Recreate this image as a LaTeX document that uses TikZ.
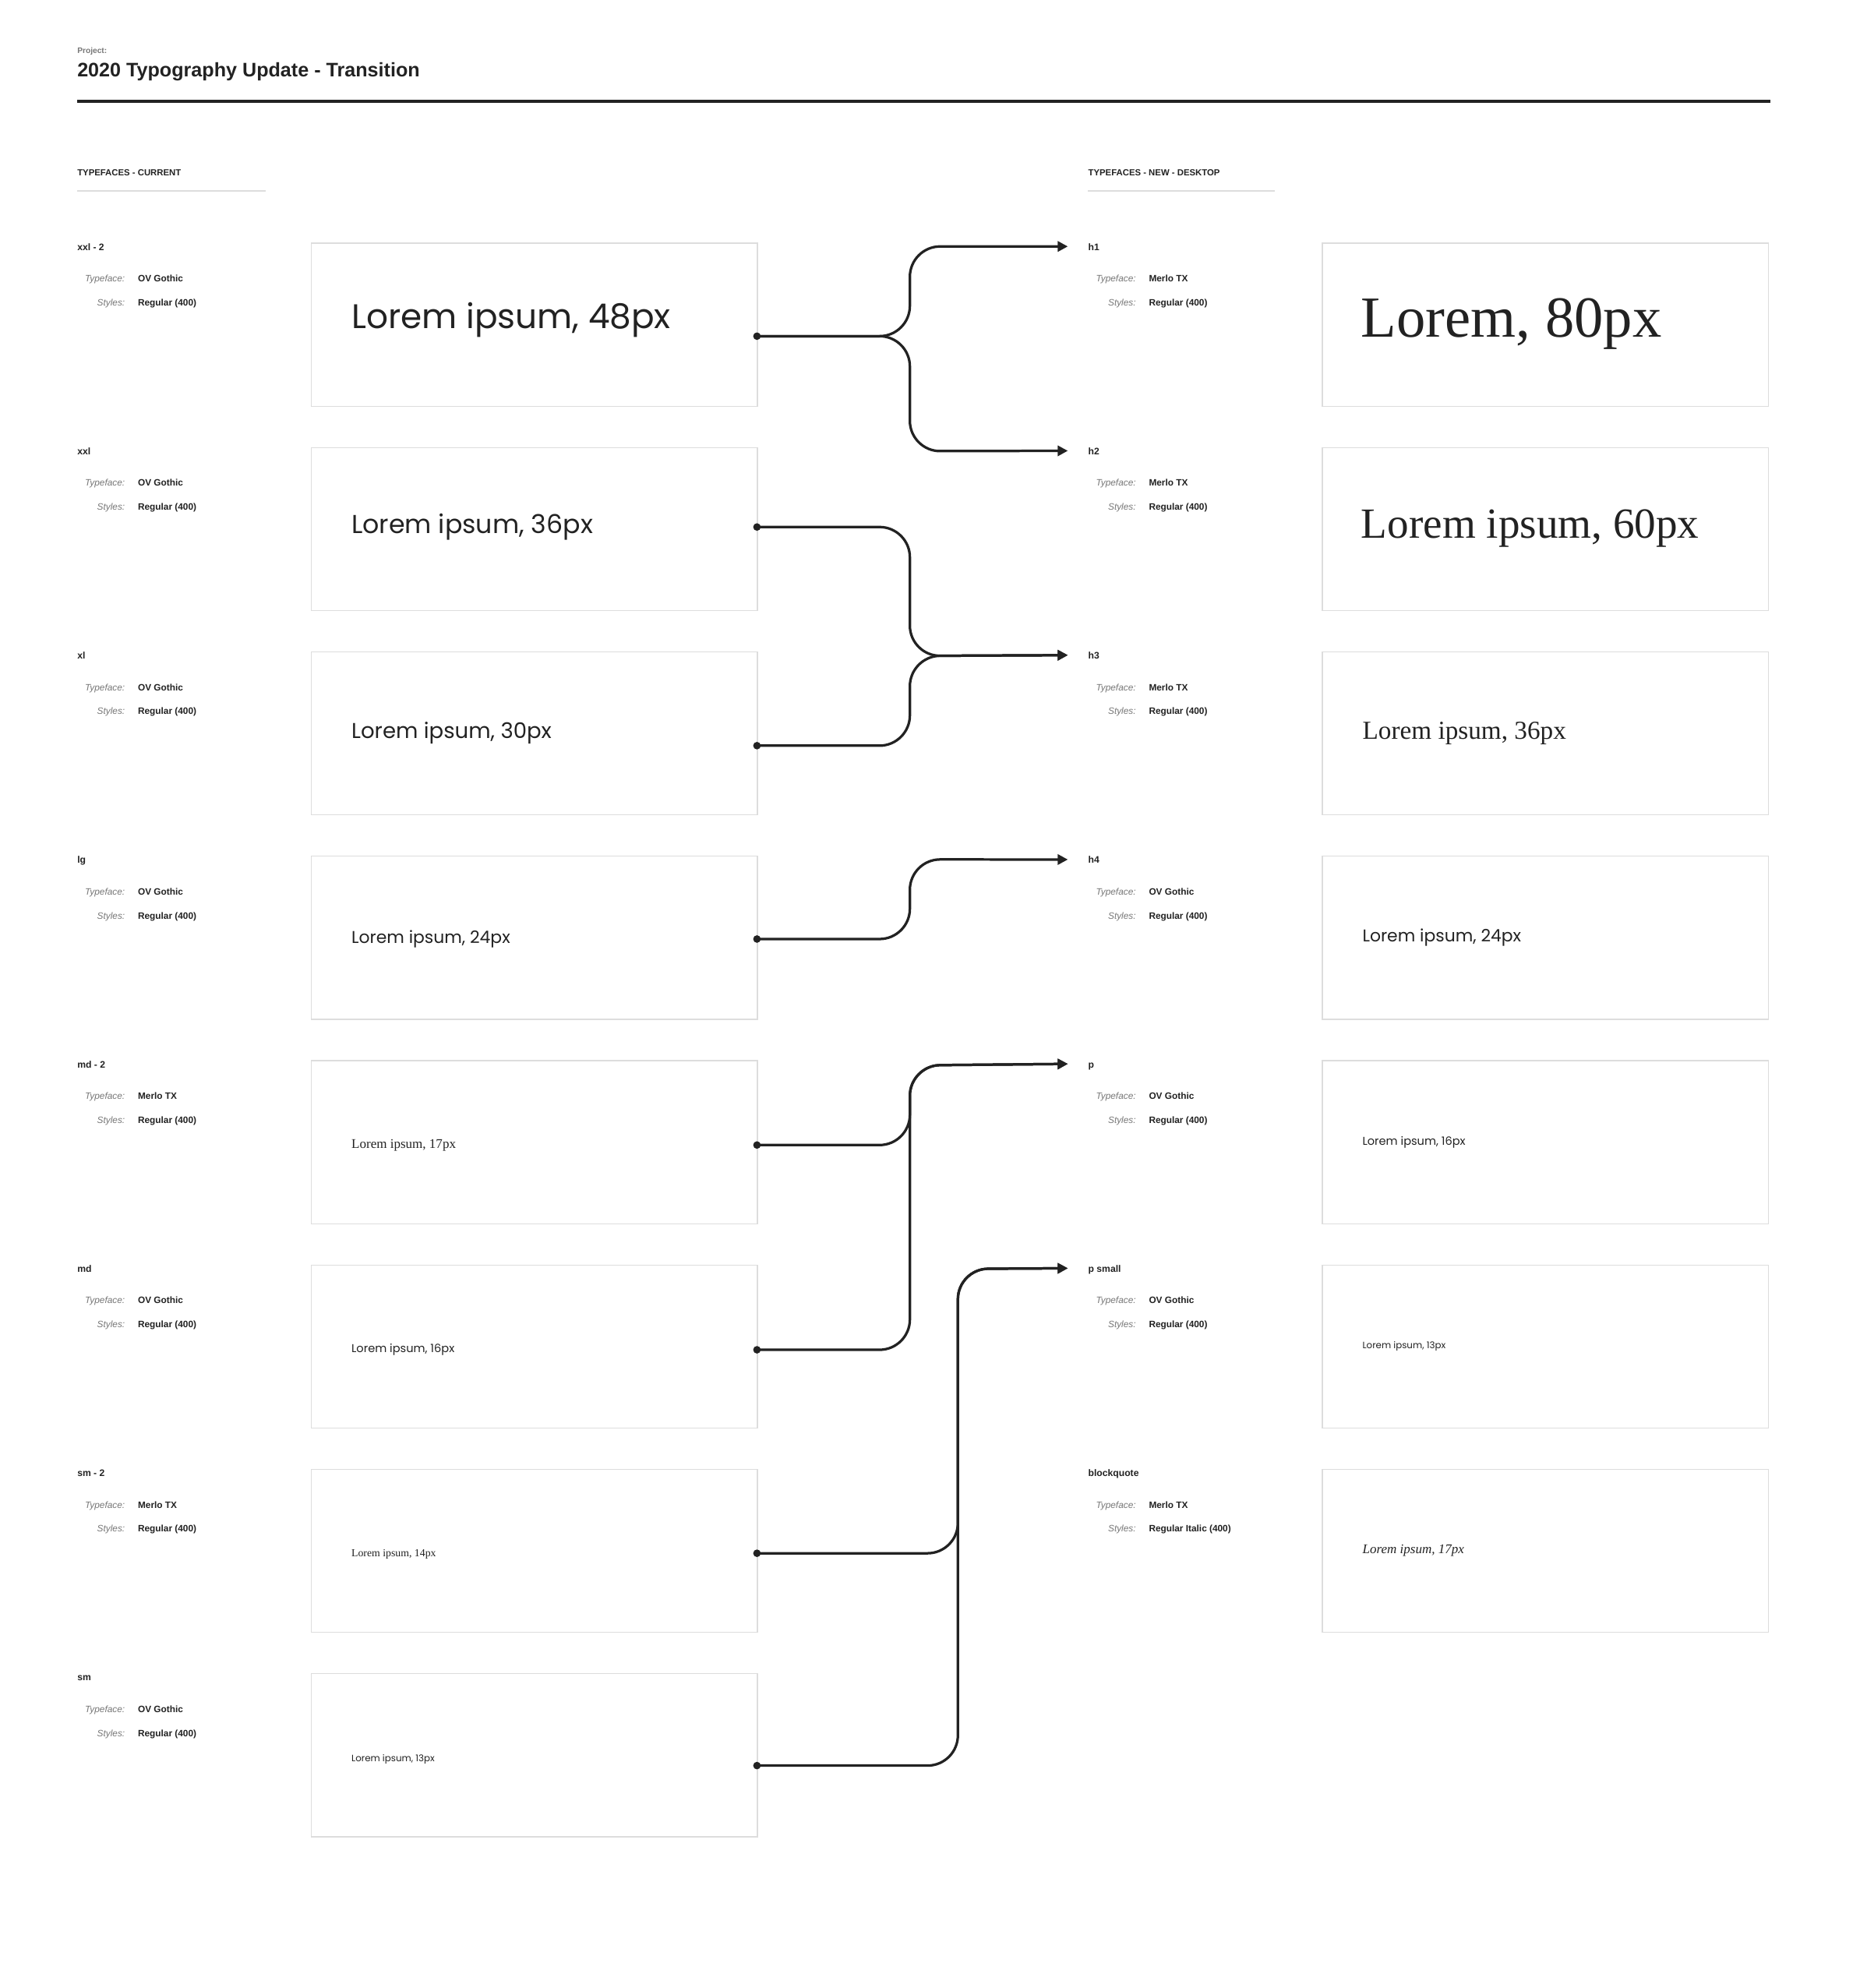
\documentclass[tikz,border=0pt]{standalone}
\usepackage{fontspec}
\setmainfont{Liberation Sans}
\newfontfamily\gothic{Poppins}
\newfontfamily\merlo{Liberation Serif}
\usetikzlibrary{arrows.meta}
\definecolor{ink}{HTML}{222222}
\definecolor{boxline}{HTML}{DDDDDD}
\definecolor{greytxt}{HTML}{777777}
\tikzset{
  x=1pt,y=-1pt,
  sample/.style={draw=boxline,line width=0.8pt,minimum width=353pt,minimum height=129pt,anchor=north west,inner sep=0pt},
  stxt/.style={anchor=west,inner sep=0pt,text=ink},
  lab/.style={anchor=base west,inner sep=0pt,font=\fontsize{7.5}{8}\selectfont\bfseries,text=ink},
  key/.style={anchor=base east,inner sep=0pt,font=\fontsize{7.3}{8}\selectfont\itshape,text=greytxt},
  val/.style={anchor=base west,inner sep=0pt,font=\fontsize{7.3}{8}\selectfont\bfseries,text=ink},
  conn/.style={draw=ink,line width=2pt,rounded corners=24pt,-{Triangle[length=8pt,width=8pt]}},
  dot/.style={circle,fill=ink,inner sep=0pt,minimum size=6pt}
}
\begin{document}
\begin{tikzpicture}
\useasboundingbox (0,0) rectangle (1466,1573);
\fill[white] (0,0) rectangle (1466,1573);
\node[lab,font=\fontsize{6.3}{7}\selectfont\bfseries,text=greytxt] (proj) at (61,42) {Project:};
\node[lab,font=\fontsize{15.5}{17}\selectfont\bfseries] (title) at (61,61) {2020 Typography Update - Transition};
\draw[ink,line width=2.5pt] (61,80) -- (1401,80);
\node[lab,font=\fontsize{7}{8}\selectfont\bfseries] (hcur) at (61,139) {TYPEFACES - CURRENT};
\draw[boxline,line width=0.8pt] (61,151) -- (210,151);
\node[lab,font=\fontsize{7}{8}\selectfont\bfseries] (hnew) at (861,139) {TYPEFACES - NEW - DESKTOP};
\draw[boxline,line width=0.8pt] (861,151) -- (1009,151);
% left rows
\foreach \i/\name/\tf in {0/xxl - 2/OV Gothic, 1/xxl/OV Gothic, 2/xl/OV Gothic, 3/lg/OV Gothic,
 4/md - 2/Merlo TX, 5/md/OV Gothic, 6/sm - 2/Merlo TX, 7/sm/OV Gothic}{
  \pgfmathsetmacro\yy{198+161.7*\i}
  \node[lab] (ln\i) at (61,\yy) {\name};
  \node[key] (lk\i) at (99,\yy+25) {Typeface:};
  \node[val] (lv\i) at (109,\yy+25) {\tf};
  \node[key] (ls\i) at (99,\yy+44) {Styles:};
  \node[val] (lw\i) at (109,\yy+44) {Regular (400)};
  \node[sample] (L\i) at (246,\yy-6) {};
}
\node[stxt,font=\gothic\fontsize{27}{30}\selectfont] (t0) at (278,253) {Lorem ipsum, 48px};
\node[stxt,font=\gothic\fontsize{20.5}{24}\selectfont] (t1) at (278,417) {Lorem ipsum, 36px};
\node[stxt,font=\gothic\fontsize{17}{20}\selectfont] (t2) at (278,580) {Lorem ipsum, 30px};
\node[stxt,font=\gothic\fontsize{13.5}{16}\selectfont] (t3) at (278,743) {Lorem ipsum, 24px};
\node[stxt,font=\merlo\fontsize{10.5}{12}\selectfont] (t4) at (278,906) {Lorem ipsum, 17px};
\node[stxt,font=\gothic\fontsize{9}{11}\selectfont] (t5) at (278,1068) {Lorem ipsum, 16px};
\node[stxt,font=\merlo\fontsize{8.5}{10}\selectfont] (t6) at (278,1230) {Lorem ipsum, 14px};
\node[stxt,font=\gothic\fontsize{7.3}{9}\selectfont] (t7) at (278,1392) {Lorem ipsum, 13px};
% right rows
\foreach \i/\name/\tf/\st in {
 0/h1/Merlo TX/Regular (400), 1/h2/Merlo TX/Regular (400), 2/h3/Merlo TX/Regular (400),
 3/h4/OV Gothic/Regular (400), 4/p/OV Gothic/Regular (400), 5/p small/OV Gothic/Regular (400),
 6/blockquote/Merlo TX/Regular Italic (400)}{
  \pgfmathsetmacro\yy{198+161.7*\i}
  \node[lab] (rn\i) at (861,\yy) {\name};
  \node[key] (rk\i) at (899,\yy+25) {Typeface:};
  \node[val] (rv\i) at (909,\yy+25) {\tf};
  \node[key] (rs\i) at (899,\yy+44) {Styles:};
  \node[val] (rw\i) at (909,\yy+44) {\st};
  \node[sample] (R\i) at (1046,\yy-6) {};
  \coordinate (in\i) at (845,\yy-3);
}
\node[stxt,font=\merlo\fontsize{46}{50}\selectfont] (u0) at (1077,256) {Lorem, 80px};
\node[stxt,font=\merlo\fontsize{34}{38}\selectfont] (u1) at (1077,418) {Lorem ipsum, 60px};
\node[stxt,font=\merlo\fontsize{20.5}{24}\selectfont] (u2) at (1078,580) {Lorem ipsum, 36px};
\node[stxt,font=\gothic\fontsize{13.5}{16}\selectfont] (u3) at (1078,742) {Lorem ipsum, 24px};
\node[stxt,font=\gothic\fontsize{9}{11}\selectfont] (u4) at (1078,904) {Lorem ipsum, 16px};
\node[stxt,font=\gothic\fontsize{7.3}{9}\selectfont] (u5) at (1078,1065) {Lorem ipsum, 13px};
\node[stxt,font=\merlo\itshape\fontsize{10.5}{12}\selectfont] (u6) at (1078,1227) {Lorem ipsum, 17px};
% connector start points
\foreach \n/\yy in {a/266,b/417,c/590,d/743,e/906,f/1068,g/1229,h/1397}{
  \node[dot] (s\n) at (599,\yy) {};
}
\draw[conn] (sa.center) -- (720,266) -- (720,195) -- (in0);
\draw[conn] (sa.center) -- (720,266) -- (720,357) -- (in1);
\draw[conn] (sb.center) -- (720,417) -- (720,519) -- (in2);
\draw[conn] (sc.center) -- (720,590) -- (720,519) -- (in2);
\draw[conn] (sd.center) -- (720,743) -- (720,680) -- (in3);
\draw[conn] (se.center) -- (720,906) -- (720,843) -- (in4);
\draw[conn] (sf.center) -- (720,1068) -- (720,843) -- (in4);
\draw[conn] (sg.center) -- (758,1229) -- (758,1004) -- (in5);
\draw[conn] (sh.center) -- (758,1397) -- (758,1004) -- (in5);
\end{tikzpicture}
\end{document}
